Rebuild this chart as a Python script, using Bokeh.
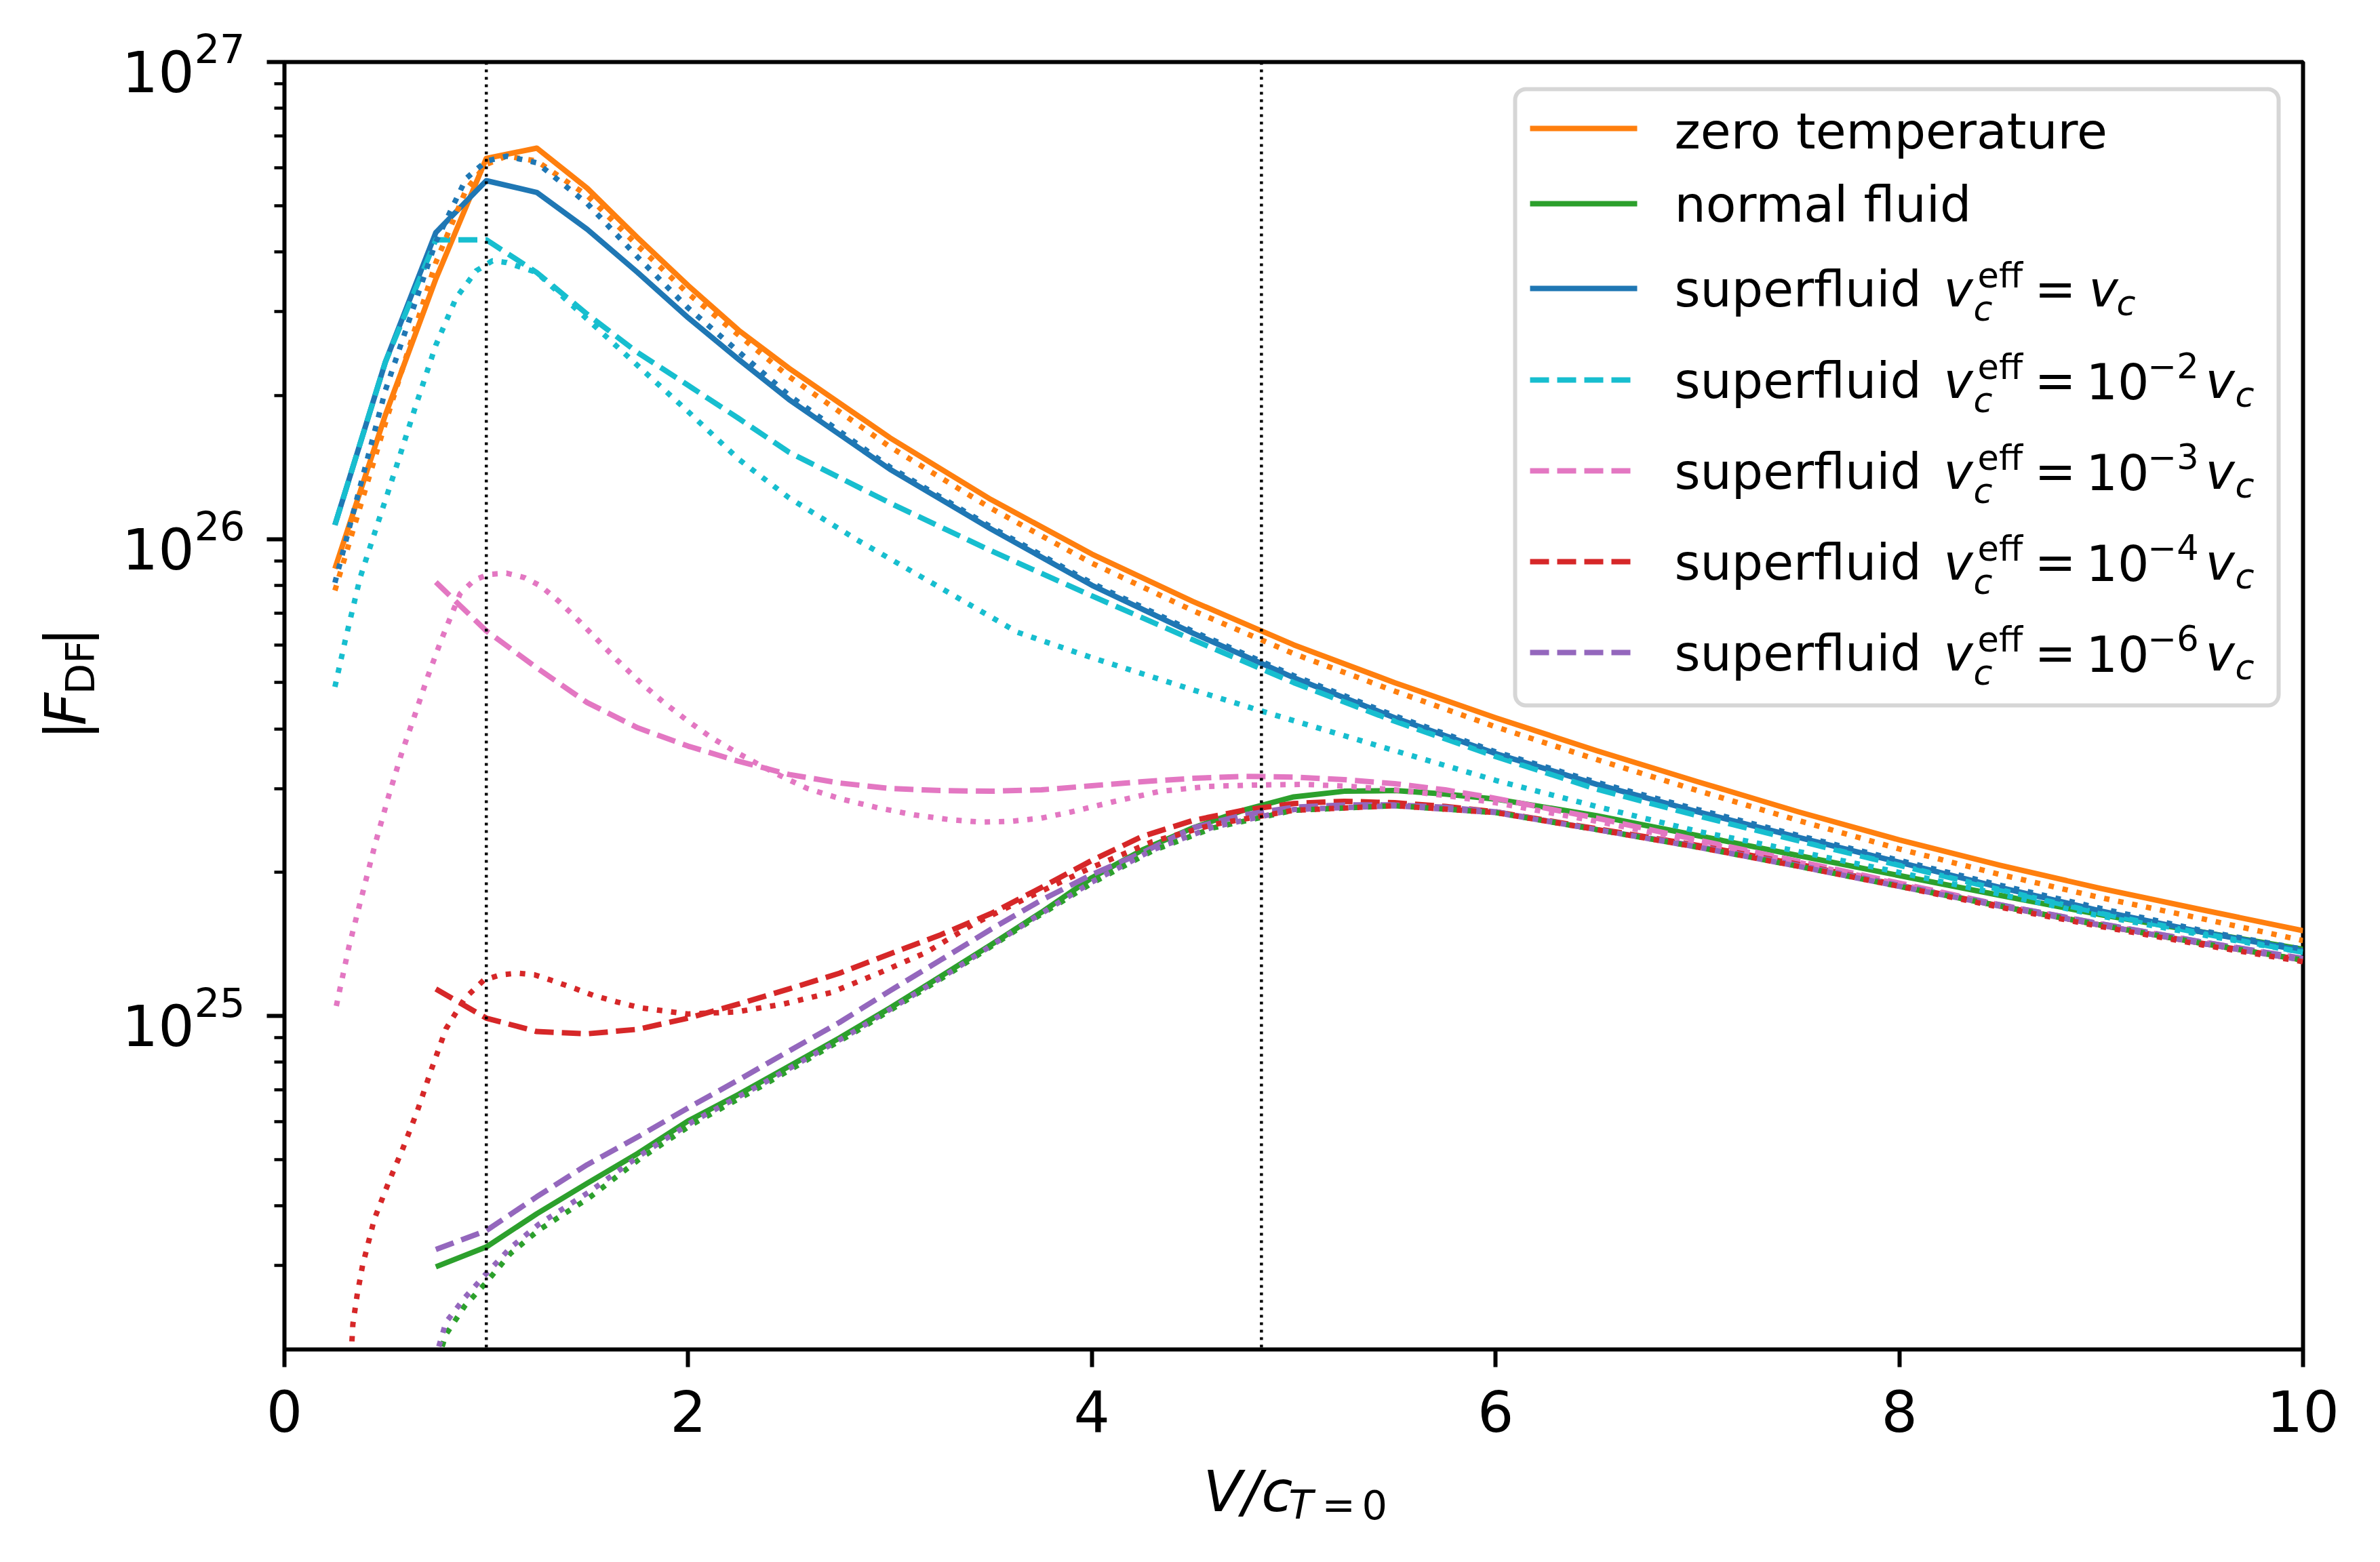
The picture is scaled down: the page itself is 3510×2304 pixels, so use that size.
import math
from bokeh.plotting import figure
from bokeh.layouts import row, column
from bokeh.models import Range1d, FixedTicker, Span, Label, Arrow, BoxAnnotation
from bokeh.embed import file_html
from bokeh.resources import INLINE

# ---------------- data (|F_DF| in units of 1e25) ----------------
UNIT = 1e25

V_zero = [0.25, 0.5, 0.75, 1.0, 1.25, 1.5, 1.75, 2.0, 2.25, 2.5, 3.0, 3.5, 4.0, 4.5, 5.0, 5.5, 6.0, 6.5, 7.0, 7.5, 8.0, 8.5, 9.0, 9.5, 10.0]
F_zero = [8.67, 18.2, 35.1, 62.8, 66.0, 54.4, 42.8, 34.0, 27.4, 22.8, 16.3, 12.1, 9.3, 7.4, 6.0, 5.0, 4.22, 3.6, 3.1, 2.68, 2.34, 2.07, 1.85, 1.67, 1.51]

V_zero_dot = [0.25, 0.5, 0.75, 0.9, 1.0, 1.1, 1.25, 1.5, 1.75, 2.0, 2.5, 3.0, 3.5, 4.0, 4.5, 5.0, 5.5, 6.0, 6.5, 7.0, 7.5, 8.0, 8.5, 9.0, 9.5, 10.0]
F_zero_dot = [7.8, 17.5, 38.0, 54.0, 61.0, 63.5, 62.0, 52.5, 41.2, 32.7, 21.9, 15.6, 11.6, 8.9, 7.08, 5.75, 4.8, 4.04, 3.45, 2.97, 2.57, 2.24, 1.98, 1.77, 1.6, 1.44]

GRID = [0.75, 1.0, 1.25, 1.5, 1.75, 2.0, 2.25, 2.5, 2.75, 3.0, 3.25, 3.5, 3.75, 4.0, 4.25, 4.5, 4.75, 5.0, 5.25, 5.5, 5.75, 6.0, 6.5, 7.0, 7.5, 8.0, 8.5, 9.0, 9.5, 10.0]

V_normal = GRID
F_normal = [0.298, 0.328, 0.385, 0.446, 0.515, 0.603, 0.685, 0.785, 0.9, 1.04, 1.21, 1.41, 1.65, 1.95, 2.23, 2.48, 2.7, 2.88, 2.96, 2.97, 2.92, 2.85, 2.63, 2.39, 2.17, 1.97, 1.79, 1.63, 1.5, 1.38]

V_normal_dot = [0.76, 0.8, 0.894, 0.995, 1.12, 1.26, 1.51, 1.766, 2.02, 2.354, 2.826, 3.297, 3.693, 4.0, 4.3, 4.6, 5.0, 5.5, 6.0, 6.5, 7.0, 7.5, 8.0, 8.5, 9.0, 9.5, 10.0]
F_normal_dot = [0.19, 0.215, 0.247, 0.275, 0.318, 0.356, 0.416, 0.504, 0.593, 0.709, 0.925, 1.23, 1.58, 1.9, 2.22, 2.48, 2.7, 2.76, 2.67, 2.46, 2.26, 2.06, 1.87, 1.7, 1.55, 1.42, 1.31]

V_sf = [0.25, 0.5, 0.75, 1.0, 1.25, 1.5, 1.75, 2.0, 2.25, 2.5, 3.0, 3.5, 4.0, 4.5, 5.0, 5.5, 6.0, 6.5, 7.0, 7.5, 8.0, 8.5, 9.0, 9.5, 10.0]
F_sf = [10.7, 23.5, 43.9, 56.4, 53.3, 44.6, 36.2, 29.1, 23.8, 19.6, 14.0, 10.5, 8.0, 6.35, 5.12, 4.22, 3.55, 3.06, 2.68, 2.37, 2.1, 1.86, 1.66, 1.5, 1.37]

V_sf_dot = [0.25, 0.5, 0.75, 0.9, 1.0, 1.1, 1.25, 1.5, 1.75, 2.0, 2.5, 3.0, 3.5, 4.0, 4.5, 5.0, 5.5, 6.0, 6.5, 7.0, 7.5, 8.0, 8.5, 9.0, 9.5, 10.0]
F_sf_dot = [8.1, 20.5, 42.0, 57.0, 62.0, 63.5, 61.5, 50.5, 39.0, 30.5, 20.0, 14.15, 10.6, 8.08, 6.41, 5.17, 4.26, 3.58, 3.09, 2.71, 2.39, 2.12, 1.88, 1.68, 1.51, 1.38]

V_e2 = [0.25, 0.5, 0.75, 1.0, 1.25, 1.5, 1.75, 2.0, 2.25, 2.5, 3.0, 3.5, 4.0, 4.5, 5.0, 5.5, 6.0, 6.5, 7.0, 7.5, 8.0, 8.5, 9.0, 9.5, 10.0]
F_e2 = [10.7, 23.5, 42.4, 42.4, 36.2, 29.6, 24.6, 21.0, 17.9, 15.2, 11.9, 9.45, 7.6, 6.15, 5.0, 4.15, 3.5, 2.99, 2.63, 2.33, 2.07, 1.84, 1.64, 1.49, 1.36]

V_e2_dot = [0.25, 0.3, 0.375, 0.45, 0.55, 0.65, 0.75, 0.85, 0.95, 1.03, 1.1, 1.25, 1.5, 1.75, 2.0, 2.25, 2.5, 2.83, 3.25, 3.63, 4.0, 4.5, 4.84, 5.5, 6.0, 6.5, 7.0, 7.33, 8.0, 8.5, 9.0, 9.5, 10.0]
F_e2_dot = [4.9, 6.1, 8.3, 10.4, 14.0, 19.0, 25.5, 32.0, 36.5, 38.3, 38.0, 36.2, 28.9, 23.1, 18.5, 14.7, 12.2, 10.0, 7.9, 6.38, 5.64, 4.83, 4.36, 3.6, 3.12, 2.75, 2.44, 2.29, 2.0, 1.8, 1.62, 1.48, 1.36]

V_e3 = GRID
F_e3 = [8.12, 6.42, 5.37, 4.54, 4.02, 3.68, 3.42, 3.21, 3.08, 3.0, 2.97, 2.96, 2.98, 3.04, 3.1, 3.15, 3.18, 3.17, 3.13, 3.07, 2.98, 2.86, 2.6, 2.34, 2.11, 1.9, 1.71, 1.56, 1.43, 1.32]

V_e3_dot = [0.257, 0.32, 0.387, 0.45, 0.516, 0.58, 0.647, 0.71, 0.776, 0.87, 0.94, 1.01, 1.1, 1.19, 1.27, 1.36, 1.46, 1.55, 1.647, 1.76, 1.88, 2.0, 2.117, 2.24, 2.354, 2.47, 2.59, 2.76, 2.944, 3.12, 3.297, 3.45, 3.6, 3.75, 3.9, 4.1, 4.34, 4.58, 4.81, 5.05, 5.28, 5.5, 5.75, 6.0, 6.5, 7.0, 7.5, 8.0, 8.5, 9.0, 9.5, 10.0]
F_e3_dot = [1.05, 1.4, 1.81, 2.3, 2.89, 3.55, 4.29, 5.15, 6.13, 7.68, 8.2, 8.43, 8.48, 8.3, 7.97, 7.4, 6.73, 6.15, 5.58, 5.02, 4.54, 4.15, 3.83, 3.57, 3.36, 3.17, 3.0, 2.85, 2.73, 2.64, 2.58, 2.55, 2.56, 2.6, 2.68, 2.81, 2.96, 3.03, 3.05, 3.06, 3.03, 2.98, 2.9, 2.8, 2.56, 2.32, 2.1, 1.89, 1.7, 1.55, 1.42, 1.31]

V_e4 = GRID
F_e4 = [1.14, 0.99, 0.928, 0.918, 0.938, 0.99, 1.06, 1.14, 1.23, 1.35, 1.48, 1.64, 1.86, 2.12, 2.38, 2.57, 2.7, 2.79, 2.82, 2.8, 2.75, 2.68, 2.47, 2.28, 2.08, 1.88, 1.7, 1.55, 1.42, 1.31]

V_e4_dot = [0.325, 0.334, 0.339, 0.36, 0.387, 0.445, 0.516, 0.586, 0.657, 0.729, 0.8, 0.894, 0.988, 1.07, 1.153, 1.24, 1.318, 1.42, 1.53, 1.65, 1.766, 2.0, 2.237, 2.473, 2.708, 2.944, 3.18, 3.415, 3.693, 4.0, 4.3, 4.6, 5.0, 5.5, 6.0, 6.5, 7.0, 7.5, 8.0, 8.5, 9.0, 9.5, 10.0]
F_e4_dot = [0.12, 0.207, 0.226, 0.26, 0.30, 0.375, 0.448, 0.527, 0.63, 0.775, 0.94, 1.09, 1.19, 1.22, 1.23, 1.22, 1.19, 1.15, 1.105, 1.07, 1.04, 1.01, 1.02, 1.06, 1.12, 1.23, 1.36, 1.56, 1.78, 2.05, 2.32, 2.52, 2.7, 2.76, 2.67, 2.46, 2.26, 2.06, 1.87, 1.69, 1.54, 1.41, 1.3]

V_e6 = GRID
F_e6 = [0.324, 0.355, 0.418, 0.488, 0.558, 0.642, 0.735, 0.845, 0.97, 1.13, 1.31, 1.52, 1.75, 1.98, 2.2, 2.48, 2.64, 2.74, 2.77, 2.77, 2.74, 2.68, 2.46, 2.27, 2.07, 1.88, 1.71, 1.56, 1.43, 1.32]

V_e6_dot = [0.745, 0.8, 0.894, 0.995, 1.12, 1.26, 1.51, 1.766, 2.02, 2.354, 2.826, 3.297, 3.693, 4.0, 4.3, 4.6, 5.0, 5.5, 6.0, 6.5, 7.0, 7.5, 8.0, 8.5, 9.0, 9.5, 10.0]
F_e6_dot = [0.19, 0.228, 0.257, 0.287, 0.327, 0.366, 0.428, 0.512, 0.6, 0.716, 0.93, 1.235, 1.585, 1.91, 2.23, 2.49, 2.71, 2.76, 2.67, 2.46, 2.26, 2.06, 1.87, 1.7, 1.55, 1.42, 1.31]

V_MARKERS = [1.0, 4.84]          # vertical reference lines
X_TICKS = [0, 2, 4, 6, 8, 10]
Y_TICKS = [1e25, 1e26, 1e27]
Y_MINOR = [m * 10.0 ** e for e in (24, 25, 26) for m in range(2, 10) if 2e24 < m * 10.0 ** e < 1e27]

LEGEND_EXPONENTS = [None, None, "", "\u22122", "\u22123", "\u22124", "\u22126"]
LEGEND_PLAIN = ["zero temperature", "normal fluid"]

# ---------------- styles ----------------
C_ORANGE, C_GREEN, C_BLUE = "#ff7f0e", "#2ca02c", "#1f77b4"
C_CYAN, C_PINK, C_RED, C_PURPLE = "#17becf", "#e377c2", "#d62728", "#9467bd"
LW = 8
DASH = "28 12"
DOT = "8 13"
FONT = "DejaVu Sans"
BASE_FIX = 0.34   # em shift that Bokeh's "alphabetic" anchor needs

MAIN = [
    (V_zero, F_zero, C_ORANGE, "solid"),
    (V_normal, F_normal, C_GREEN, "solid"),
    (V_sf, F_sf, C_BLUE, "solid"),
    (V_e2, F_e2, C_CYAN, DASH),
    (V_e3, F_e3, C_PINK, DASH),
    (V_e4, F_e4, C_RED, DASH),
    (V_e6, F_e6, C_PURPLE, DASH),
]
DOTTED = [
    (V_zero_dot, F_zero_dot, C_ORANGE),
    (V_normal_dot, F_normal_dot, C_GREEN),
    (V_sf_dot, F_sf_dot, C_BLUE),
    (V_e2_dot, F_e2_dot, C_CYAN),
    (V_e3_dot, F_e3_dot, C_PINK),
    (V_e4_dot, F_e4_dot, C_RED),
    (V_e6_dot, F_e6_dot, C_PURPLE),
]

# ---------------- layout (page pixels) ----------------
PAGE_W, PAGE_H = 3510, 2304
YLAB_W = 175           # strip left of the chart for the y label
MAIN_H = 2146          # chart height; the x-label strip fills the rest
XLAB_H = PAGE_H - MAIN_H
MAIN_W = PAGE_W - YLAB_W
FL, FR, FT, FB = 419, 3396, 91, 1990   # plot frame on the page
X_MIN, X_MAX = 0.0, 10.0
Y_MIN, Y_MAX = 2e24, 1e27

p = figure(width=MAIN_W, height=MAIN_H, title=None,
           x_range=Range1d(X_MIN, X_MAX), y_range=Range1d(Y_MIN, Y_MAX),
           y_axis_type="log", output_backend="svg", toolbar_location=None,
           min_border_left=FL - YLAB_W, min_border_right=PAGE_W - FR,
           min_border_top=FT, min_border_bottom=MAIN_H - FB)
p.background_fill_color = "white"
p.border_fill_color = "white"
p.outline_line_color = "black"
p.outline_line_width = 6
p.grid.visible = False

def dx(px):
    return X_MIN + (px - FL) / (FR - FL) * (X_MAX - X_MIN)
def dy(py):
    lo, hi = math.log10(Y_MIN), math.log10(Y_MAX)
    return 10 ** (lo + (FB - py) / (FB - FT) * (hi - lo))

# axes
for ax in (p.xaxis, p.yaxis):
    ax.axis_line_color = None
    ax.major_tick_in = 0
    ax.major_tick_out = 26
    ax.major_tick_line_width = 6
    ax.major_label_text_font = FONT
    ax.major_label_text_font_size = "84px"
    ax.major_label_text_color = "black"
p.xaxis.ticker = FixedTicker(ticks=X_TICKS)
p.xaxis.minor_tick_line_color = None
p.xaxis.major_label_standoff = 33
p.yaxis.ticker = FixedTicker(ticks=Y_TICKS, minor_ticks=Y_MINOR)
p.yaxis.minor_tick_in = 0
p.yaxis.minor_tick_out = 15
p.yaxis.minor_tick_line_width = 4.5
p.yaxis.major_label_standoff = 32

# curves
for V, F, col, dash in MAIN:
    p.line(V, [f * UNIT for f in F], line_color=col, line_width=LW, line_dash=dash, line_join="round")
for V, F, col in DOTTED:
    p.line(V, [f * UNIT for f in F], line_color=col, line_width=LW, line_dash=DOT, line_join="round")

for v in V_MARKERS:
    p.add_layout(Span(location=v, dimension="height", line_color="black", line_width=4.5, line_dash="4 7"))

def mk_label(x, y, s, size, italic=False, rotated=False):
    return Label(x=x, y=y, text=s, text_font=FONT, text_font_size=f"{size}px",
                 text_font_style="italic" if italic else "normal", text_color="black",
                 text_align="left", text_baseline="alphabetic",
                 angle=math.pi / 2 if rotated else 0.0)

def txt(x, y, s, size, italic=False):
    p.add_layout(mk_label(dx(x), dy(y - BASE_FIX * size), s, size, italic))

# legend (drawn by hand to keep sub/superscripts as text)
p.add_layout(BoxAnnotation(left=dx(2234), right=dx(3360), top=dy(131), bottom=dy(1040),
                           fill_color="white", fill_alpha=0.8, line_color="#cccccc", line_alpha=0.8,
                           line_width=6, border_radius=16))
ROW_LINE_Y = [189, 300, 425, 560, 694, 828, 962]
ROW_BASE_Y = [218, 326, 451, 586, 720, 854, 988]
for i, (V, F, col, dash) in enumerate(MAIN):
    y = ROW_LINE_Y[i]
    p.add_layout(Arrow(start=None, end=None, x_start=dx(2256), y_start=dy(y), x_end=dx(2414), y_end=dy(y),
                       line_color=col, line_width=LW, line_dash=dash))
LF, LS = 73, 51
for i, expo in enumerate(LEGEND_EXPONENTS):
    b = ROW_BASE_Y[i]
    if expo is None:
        txt(2469, b, LEGEND_PLAIN[i], LF)
        continue
    txt(2469, b, "superfluid", LF)
    txt(2866, b, "v", LF, italic=True)
    txt(2910, b + 21, "c", LS, italic=True)
    txt(2916, b - 28, "eff", LS)
    txt(3000, b, "=", LF)
    if expo == "":
        txt(3080, b, "v", LF, italic=True)
        txt(3121, b + 13, "c", LS, italic=True)
    else:
        txt(3076, b, "10", LF)
        txt(3167, b - 30, expo, LS)
        txt(3252, b, "v", LF, italic=True)
        txt(3296, b + 13, "c", LS, italic=True)

def strip(w, h, x0, y0):
    # a bare figure whose data coordinates are page pixels
    s = figure(width=w, height=h, title=None, x_range=Range1d(x0, x0 + w), y_range=Range1d(y0 + h, y0),
               x_axis_type=None, y_axis_type=None, output_backend="svg", toolbar_location=None,
               min_border=0, min_border_left=0, min_border_right=0, min_border_top=0, min_border_bottom=0,
               outline_line_color=None)
    s.background_fill_color = "white"
    s.border_fill_color = "white"
    return s

# ---------------- y-label strip:  |F_DF|  (rotated) ----------------
ylab = strip(YLAB_W, MAIN_H, 0, 0)
def ytxt(x, y, s, size, italic=False):
    ylab.add_layout(mk_label(x - BASE_FIX * size, y, s, size, italic, rotated=True))
ytxt(125, 1130, "|", 84)
ytxt(125, 1106, "F", 84, italic=True)
ytxt(138, 1054, "DF", 59)
ytxt(125, 974, "|", 84)

# ---------------- x-label strip:  V/c_{T=0} ----------------
xlab = strip(PAGE_W, XLAB_H, 0, MAIN_H)
def xtxt(x, y, s, size, italic=False):
    xlab.add_layout(mk_label(x, y - BASE_FIX * size, s, size, italic))
xtxt(1774, 2228, "V/c", 84, italic=True)
xtxt(1900, 2239, "T", 59, italic=True)
xtxt(1949, 2239, "=", 59)
xtxt(2008, 2239, "0", 59)

page = column(row(ylab, p, spacing=0), xlab, spacing=0)
open("out.html", "w").write(file_html(page, INLINE))
